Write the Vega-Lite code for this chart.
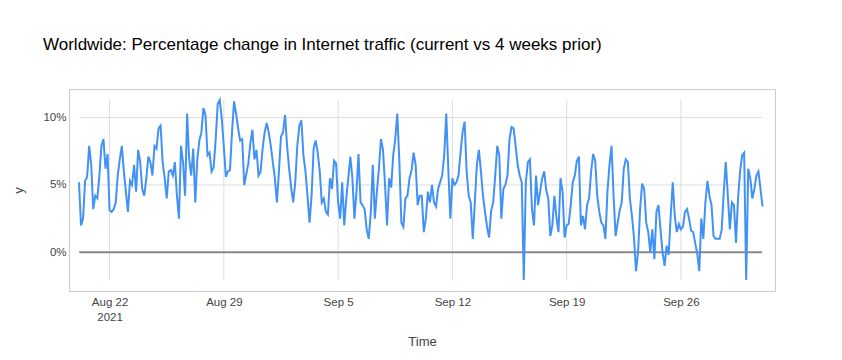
{
  "$schema": "https://vega.github.io/schema/vega-lite/v6.json",
  "width": 706,
  "height": 202,
  "autosize": {"type": "none"},
  "padding": {"left": 69, "top": 89, "right": 67, "bottom": 69},
  "background": "#ffffff",
  "config": {
    "view": {"stroke": "#cccccc", "strokeWidth": 1},
    "font": "Liberation Sans"
  },
  "title": {
    "text": "Worldwide: Percentage change in Internet traffic (current vs 4 weeks prior)",
    "anchor": "start",
    "frame": "group",
    "fontSize": 17,
    "fontWeight": "normal",
    "font": "Liberation Sans",
    "color": "#000000",
    "baseline": "alphabetic",
    "offset": 0,
    "dx": -26,
    "dy": -22
  },
  "datasets": {
    "hgrid": [{"g": 5}, {"g": 10}],
    "vgrid": [
      {"t": "2021-08-22T00:00"}, {"t": "2021-08-29T00:00"}, {"t": "2021-09-05T00:00"},
      {"t": "2021-09-12T00:00"}, {"t": "2021-09-19T00:00"}, {"t": "2021-09-26T00:00"}
    ],
    "traffic": [
      {"t":"2021-08-20T03:00","v":5.2},{"t":"2021-08-20T06:00","v":2.0},{"t":"2021-08-20T09:00","v":2.5},{"t":"2021-08-20T12:00","v":5.3},{"t":"2021-08-20T15:00","v":5.6},{"t":"2021-08-20T18:00","v":7.9},{"t":"2021-08-20T21:00","v":6.5},
      {"t":"2021-08-21T00:00","v":3.2},{"t":"2021-08-21T03:00","v":4.2},{"t":"2021-08-21T06:00","v":4.0},{"t":"2021-08-21T09:00","v":5.7},{"t":"2021-08-21T12:00","v":7.9},{"t":"2021-08-21T15:00","v":8.4},{"t":"2021-08-21T18:00","v":6.2},{"t":"2021-08-21T21:00","v":7.3},
      {"t":"2021-08-22T00:00","v":3.1},{"t":"2021-08-22T03:00","v":3.0},{"t":"2021-08-22T06:00","v":3.2},{"t":"2021-08-22T09:00","v":3.7},{"t":"2021-08-22T12:00","v":5.7},{"t":"2021-08-22T15:00","v":6.9},{"t":"2021-08-22T18:00","v":7.9},{"t":"2021-08-22T21:00","v":6.0},
      {"t":"2021-08-23T00:00","v":4.5},{"t":"2021-08-23T03:00","v":3.0},{"t":"2021-08-23T06:00","v":5.3},{"t":"2021-08-23T09:00","v":5.0},{"t":"2021-08-23T12:00","v":6.5},{"t":"2021-08-23T15:00","v":4.5},{"t":"2021-08-23T18:00","v":7.6},{"t":"2021-08-23T21:00","v":6.7},
      {"t":"2021-08-24T00:00","v":4.7},{"t":"2021-08-24T03:00","v":4.2},{"t":"2021-08-24T06:00","v":5.5},{"t":"2021-08-24T09:00","v":7.1},{"t":"2021-08-24T12:00","v":6.7},{"t":"2021-08-24T15:00","v":5.7},{"t":"2021-08-24T18:00","v":7.9},{"t":"2021-08-24T21:00","v":7.7},
      {"t":"2021-08-25T00:00","v":9.2},{"t":"2021-08-25T03:00","v":9.4},{"t":"2021-08-25T06:00","v":6.7},{"t":"2021-08-25T09:00","v":5.5},{"t":"2021-08-25T12:00","v":4.0},{"t":"2021-08-25T15:00","v":6.0},{"t":"2021-08-25T18:00","v":6.1},{"t":"2021-08-25T21:00","v":5.7},
      {"t":"2021-08-26T00:00","v":6.7},{"t":"2021-08-26T03:00","v":4.2},{"t":"2021-08-26T06:00","v":2.5},{"t":"2021-08-26T09:00","v":7.9},{"t":"2021-08-26T12:00","v":6.7},{"t":"2021-08-26T15:00","v":4.2},{"t":"2021-08-26T18:00","v":10.3},{"t":"2021-08-26T21:00","v":6.9},
      {"t":"2021-08-27T00:00","v":5.7},{"t":"2021-08-27T03:00","v":7.7},{"t":"2021-08-27T06:00","v":3.7},{"t":"2021-08-27T09:00","v":6.9},{"t":"2021-08-27T12:00","v":8.3},{"t":"2021-08-27T15:00","v":8.9},{"t":"2021-08-27T18:00","v":10.7},{"t":"2021-08-27T21:00","v":10.2},
      {"t":"2021-08-28T00:00","v":7.2},{"t":"2021-08-28T03:00","v":7.4},{"t":"2021-08-28T06:00","v":6.0},{"t":"2021-08-28T09:00","v":6.3},{"t":"2021-08-28T12:00","v":8.4},{"t":"2021-08-28T15:00","v":11.0},{"t":"2021-08-28T18:00","v":11.3},{"t":"2021-08-28T21:00","v":9.9},
      {"t":"2021-08-29T00:00","v":7.8},{"t":"2021-08-29T03:00","v":5.6},{"t":"2021-08-29T06:00","v":6.0},{"t":"2021-08-29T09:00","v":6.1},{"t":"2021-08-29T12:00","v":8.9},{"t":"2021-08-29T15:00","v":11.2},{"t":"2021-08-29T18:00","v":10.3},{"t":"2021-08-29T21:00","v":9.2},
      {"t":"2021-08-30T00:00","v":8.3},{"t":"2021-08-30T03:00","v":8.4},{"t":"2021-08-30T06:00","v":5.0},{"t":"2021-08-30T09:00","v":5.8},{"t":"2021-08-30T12:00","v":6.6},{"t":"2021-08-30T15:00","v":8.1},{"t":"2021-08-30T18:00","v":9.1},{"t":"2021-08-30T21:00","v":6.9},
      {"t":"2021-08-31T00:00","v":7.6},{"t":"2021-08-31T03:00","v":5.7},{"t":"2021-08-31T06:00","v":6.0},{"t":"2021-08-31T09:00","v":7.7},{"t":"2021-08-31T12:00","v":8.9},{"t":"2021-08-31T15:00","v":9.6},{"t":"2021-08-31T18:00","v":8.9},{"t":"2021-08-31T21:00","v":7.9},
      {"t":"2021-09-01T00:00","v":6.7},{"t":"2021-09-01T03:00","v":5.5},{"t":"2021-09-01T06:00","v":3.7},{"t":"2021-09-01T09:00","v":6.0},{"t":"2021-09-01T12:00","v":8.6},{"t":"2021-09-01T15:00","v":8.9},{"t":"2021-09-01T18:00","v":10.2},{"t":"2021-09-01T21:00","v":7.9},
      {"t":"2021-09-02T00:00","v":6.2},{"t":"2021-09-02T03:00","v":4.8},{"t":"2021-09-02T06:00","v":3.7},{"t":"2021-09-02T09:00","v":5.2},{"t":"2021-09-02T12:00","v":7.9},{"t":"2021-09-02T15:00","v":9.4},{"t":"2021-09-02T18:00","v":9.8},{"t":"2021-09-02T21:00","v":7.2},
      {"t":"2021-09-03T00:00","v":6.0},{"t":"2021-09-03T03:00","v":4.2},{"t":"2021-09-03T06:00","v":2.2},{"t":"2021-09-03T09:00","v":4.2},{"t":"2021-09-03T12:00","v":7.7},{"t":"2021-09-03T15:00","v":8.3},{"t":"2021-09-03T18:00","v":7.4},{"t":"2021-09-03T21:00","v":6.0},
      {"t":"2021-09-04T00:00","v":3.7},{"t":"2021-09-04T03:00","v":4.0},{"t":"2021-09-04T06:00","v":3.0},{"t":"2021-09-04T09:00","v":2.8},{"t":"2021-09-04T12:00","v":5.5},{"t":"2021-09-04T15:00","v":4.7},{"t":"2021-09-04T18:00","v":6.8},{"t":"2021-09-04T21:00","v":6.6},
      {"t":"2021-09-05T00:00","v":3.7},{"t":"2021-09-05T03:00","v":2.5},{"t":"2021-09-05T06:00","v":5.2},{"t":"2021-09-05T09:00","v":2.0},{"t":"2021-09-05T12:00","v":4.0},{"t":"2021-09-05T15:00","v":5.5},{"t":"2021-09-05T18:00","v":7.1},{"t":"2021-09-05T21:00","v":5.5},
      {"t":"2021-09-06T00:00","v":2.5},{"t":"2021-09-06T03:00","v":4.5},{"t":"2021-09-06T06:00","v":7.3},{"t":"2021-09-06T09:00","v":3.7},{"t":"2021-09-06T12:00","v":3.5},{"t":"2021-09-06T15:00","v":3.2},{"t":"2021-09-06T18:00","v":1.7},{"t":"2021-09-06T21:00","v":1.0},
      {"t":"2021-09-07T00:00","v":2.9},{"t":"2021-09-07T03:00","v":6.5},{"t":"2021-09-07T06:00","v":2.5},{"t":"2021-09-07T09:00","v":4.5},{"t":"2021-09-07T12:00","v":6.2},{"t":"2021-09-07T15:00","v":8.4},{"t":"2021-09-07T18:00","v":7.6},{"t":"2021-09-07T21:00","v":5.0},
      {"t":"2021-09-08T00:00","v":2.0},{"t":"2021-09-08T03:00","v":5.5},{"t":"2021-09-08T06:00","v":4.8},{"t":"2021-09-08T09:00","v":7.2},{"t":"2021-09-08T12:00","v":8.4},{"t":"2021-09-08T15:00","v":10.3},{"t":"2021-09-08T18:00","v":6.8},{"t":"2021-09-08T21:00","v":2.2},
      {"t":"2021-09-09T00:00","v":1.9},{"t":"2021-09-09T03:00","v":4.0},{"t":"2021-09-09T06:00","v":4.2},{"t":"2021-09-09T09:00","v":5.5},{"t":"2021-09-09T12:00","v":6.1},{"t":"2021-09-09T15:00","v":7.4},{"t":"2021-09-09T18:00","v":6.5},{"t":"2021-09-09T21:00","v":3.5},
      {"t":"2021-09-10T00:00","v":4.2},{"t":"2021-09-10T03:00","v":4.2},{"t":"2021-09-10T06:00","v":1.5},{"t":"2021-09-10T09:00","v":2.5},{"t":"2021-09-10T12:00","v":4.5},{"t":"2021-09-10T15:00","v":3.7},{"t":"2021-09-10T18:00","v":5.0},{"t":"2021-09-10T21:00","v":3.7},
      {"t":"2021-09-11T00:00","v":3.4},{"t":"2021-09-11T03:00","v":4.7},{"t":"2021-09-11T06:00","v":5.2},{"t":"2021-09-11T09:00","v":5.7},{"t":"2021-09-11T12:00","v":7.2},{"t":"2021-09-11T15:00","v":10.3},{"t":"2021-09-11T18:00","v":6.2},{"t":"2021-09-11T21:00","v":2.5},
      {"t":"2021-09-12T00:00","v":5.5},{"t":"2021-09-12T03:00","v":5.0},{"t":"2021-09-12T06:00","v":5.2},{"t":"2021-09-12T09:00","v":5.7},{"t":"2021-09-12T12:00","v":7.4},{"t":"2021-09-12T15:00","v":8.9},{"t":"2021-09-12T18:00","v":9.7},{"t":"2021-09-12T21:00","v":6.0},
      {"t":"2021-09-13T00:00","v":4.2},{"t":"2021-09-13T03:00","v":3.7},{"t":"2021-09-13T06:00","v":1.0},{"t":"2021-09-13T09:00","v":3.7},{"t":"2021-09-13T12:00","v":6.5},{"t":"2021-09-13T15:00","v":7.6},{"t":"2021-09-13T18:00","v":6.0},{"t":"2021-09-13T21:00","v":4.2},
      {"t":"2021-09-14T00:00","v":3.0},{"t":"2021-09-14T03:00","v":1.9},{"t":"2021-09-14T06:00","v":1.1},{"t":"2021-09-14T09:00","v":3.1},{"t":"2021-09-14T12:00","v":3.7},{"t":"2021-09-14T15:00","v":5.7},{"t":"2021-09-14T18:00","v":7.9},{"t":"2021-09-14T21:00","v":7.2},
      {"t":"2021-09-15T00:00","v":2.5},{"t":"2021-09-15T03:00","v":4.7},{"t":"2021-09-15T06:00","v":5.0},{"t":"2021-09-15T09:00","v":5.7},{"t":"2021-09-15T12:00","v":8.4},{"t":"2021-09-15T15:00","v":9.3},{"t":"2021-09-15T18:00","v":9.2},{"t":"2021-09-15T21:00","v":7.9},
      {"t":"2021-09-16T00:00","v":6.5},{"t":"2021-09-16T03:00","v":5.7},{"t":"2021-09-16T06:00","v":5.2},{"t":"2021-09-16T09:00","v":-2.05},{"t":"2021-09-16T12:00","v":5.2},{"t":"2021-09-16T15:00","v":6.7},{"t":"2021-09-16T18:00","v":6.9},{"t":"2021-09-16T21:00","v":3.2},
      {"t":"2021-09-17T00:00","v":2.0},{"t":"2021-09-17T03:00","v":5.7},{"t":"2021-09-17T06:00","v":3.5},{"t":"2021-09-17T09:00","v":4.5},{"t":"2021-09-17T12:00","v":5.5},{"t":"2021-09-17T15:00","v":6.0},{"t":"2021-09-17T18:00","v":4.6},{"t":"2021-09-17T21:00","v":4.0},
      {"t":"2021-09-18T00:00","v":1.2},{"t":"2021-09-18T03:00","v":2.0},{"t":"2021-09-18T06:00","v":4.2},{"t":"2021-09-18T09:00","v":2.6},{"t":"2021-09-18T12:00","v":1.5},{"t":"2021-09-18T15:00","v":5.5},{"t":"2021-09-18T18:00","v":4.5},{"t":"2021-09-18T21:00","v":1.1},
      {"t":"2021-09-19T00:00","v":2.0},{"t":"2021-09-19T03:00","v":2.1},{"t":"2021-09-19T06:00","v":3.5},{"t":"2021-09-19T09:00","v":5.2},{"t":"2021-09-19T12:00","v":5.7},{"t":"2021-09-19T15:00","v":6.8},{"t":"2021-09-19T18:00","v":7.1},{"t":"2021-09-19T21:00","v":2.0},
      {"t":"2021-09-20T00:00","v":2.7},{"t":"2021-09-20T03:00","v":1.7},{"t":"2021-09-20T06:00","v":3.5},{"t":"2021-09-20T09:00","v":4.0},{"t":"2021-09-20T12:00","v":6.0},{"t":"2021-09-20T15:00","v":7.3},{"t":"2021-09-20T18:00","v":6.8},{"t":"2021-09-20T21:00","v":4.2},
      {"t":"2021-09-21T00:00","v":3.0},{"t":"2021-09-21T03:00","v":2.2},{"t":"2021-09-21T06:00","v":2.0},{"t":"2021-09-21T09:00","v":1.0},{"t":"2021-09-21T12:00","v":4.5},{"t":"2021-09-21T15:00","v":6.5},{"t":"2021-09-21T18:00","v":7.9},{"t":"2021-09-21T21:00","v":4.2},
      {"t":"2021-09-22T00:00","v":1.2},{"t":"2021-09-22T03:00","v":2.2},{"t":"2021-09-22T06:00","v":3.1},{"t":"2021-09-22T09:00","v":3.7},{"t":"2021-09-22T12:00","v":6.2},{"t":"2021-09-22T15:00","v":6.9},{"t":"2021-09-22T18:00","v":6.7},{"t":"2021-09-22T21:00","v":4.0},
      {"t":"2021-09-23T00:00","v":2.7},{"t":"2021-09-23T03:00","v":1.1},{"t":"2021-09-23T06:00","v":-1.4},{"t":"2021-09-23T09:00","v":0.0},{"t":"2021-09-23T12:00","v":3.2},{"t":"2021-09-23T15:00","v":5.1},{"t":"2021-09-23T18:00","v":4.7},{"t":"2021-09-23T21:00","v":2.2},
      {"t":"2021-09-24T00:00","v":1.5},{"t":"2021-09-24T03:00","v":0.0},{"t":"2021-09-24T06:00","v":1.7},{"t":"2021-09-24T09:00","v":-0.5},{"t":"2021-09-24T12:00","v":3.0},{"t":"2021-09-24T15:00","v":3.5},{"t":"2021-09-24T18:00","v":1.7},{"t":"2021-09-24T21:00","v":0.0},
      {"t":"2021-09-25T00:00","v":-1.0},{"t":"2021-09-25T03:00","v":0.5},{"t":"2021-09-25T06:00","v":-0.2},{"t":"2021-09-25T09:00","v":2.7},{"t":"2021-09-25T12:00","v":5.2},{"t":"2021-09-25T15:00","v":2.7},{"t":"2021-09-25T18:00","v":1.5},{"t":"2021-09-25T21:00","v":2.1},
      {"t":"2021-09-26T00:00","v":1.7},{"t":"2021-09-26T03:00","v":1.9},{"t":"2021-09-26T06:00","v":3.0},{"t":"2021-09-26T09:00","v":3.2},{"t":"2021-09-26T12:00","v":2.5},{"t":"2021-09-26T15:00","v":1.6},{"t":"2021-09-26T18:00","v":1.5},{"t":"2021-09-26T21:00","v":0.7},
      {"t":"2021-09-27T00:00","v":-0.1},{"t":"2021-09-27T03:00","v":-1.4},{"t":"2021-09-27T06:00","v":2.5},{"t":"2021-09-27T09:00","v":1.0},{"t":"2021-09-27T12:00","v":3.7},{"t":"2021-09-27T15:00","v":5.3},{"t":"2021-09-27T18:00","v":4.2},{"t":"2021-09-27T21:00","v":3.5},
      {"t":"2021-09-28T00:00","v":1.2},{"t":"2021-09-28T03:00","v":1.0},{"t":"2021-09-28T06:00","v":1.0},{"t":"2021-09-28T09:00","v":1.0},{"t":"2021-09-28T12:00","v":1.7},{"t":"2021-09-28T15:00","v":4.5},{"t":"2021-09-28T18:00","v":6.7},{"t":"2021-09-28T21:00","v":4.2},
      {"t":"2021-09-29T00:00","v":1.7},{"t":"2021-09-29T03:00","v":3.7},{"t":"2021-09-29T06:00","v":3.5},{"t":"2021-09-29T09:00","v":0.7},{"t":"2021-09-29T12:00","v":4.0},{"t":"2021-09-29T15:00","v":6.0},{"t":"2021-09-29T18:00","v":7.2},{"t":"2021-09-29T21:00","v":7.4},
      {"t":"2021-09-30T00:00","v":-2.05},{"t":"2021-09-30T03:00","v":6.2},{"t":"2021-09-30T06:00","v":5.5},{"t":"2021-09-30T09:00","v":4.0},{"t":"2021-09-30T12:00","v":4.7},{"t":"2021-09-30T15:00","v":5.7},{"t":"2021-09-30T18:00","v":6.0},{"t":"2021-09-30T21:00","v":4.7},
      {"t":"2021-10-01T00:00","v":3.4}
    ]
  },
  "layer": [
    {
      "data": {"name": "hgrid"},
      "mark": {"type": "rule", "color": "#dddddd", "strokeWidth": 1},
      "encoding": {
        "y": {"field": "g", "type": "quantitative"},
        "x": {"datum": {"year": 2021, "month": 8, "date": 20, "hours": 3, "minutes": 24}, "type": "temporal"},
        "x2": {"datum": {"year": 2021, "month": 9, "date": 30, "hours": 23, "minutes": 13}}
      }
    },
    {
      "data": {"name": "vgrid"},
      "mark": {"type": "rule", "color": "#dddddd", "strokeWidth": 1},
      "encoding": {
        "x": {"field": "t", "type": "temporal"},
        "y": {"datum": 11.31, "type": "quantitative"},
        "y2": {"datum": -2.06}
      }
    },
    {
      "data": {"values": [{"b": 0}]},
      "mark": {"type": "rule", "color": "#888888", "strokeWidth": 2},
      "encoding": {
        "y": {"field": "b", "type": "quantitative"},
        "x": {"datum": {"year": 2021, "month": 8, "date": 20, "hours": 3, "minutes": 24}, "type": "temporal"},
        "x2": {"datum": {"year": 2021, "month": 9, "date": 30, "hours": 23, "minutes": 13}}
      }
    },
    {
      "data": {"name": "traffic"},
      "mark": {"type": "line", "color": "#4292f6", "strokeWidth": 2, "clip": true},
      "encoding": {
        "x": {
          "field": "t",
          "type": "temporal",
          "scale": {
            "domain": [
              {"year": 2021, "month": 8, "date": 19, "hours": 12, "minutes": 20},
              {"year": 2021, "month": 10, "date": 1, "hours": 18, "minutes": 21}
            ],
            "nice": false
          },
          "axis": {
            "title": "Time",
            "values": [
              {"year": 2021, "month": 8, "date": 22},
              {"year": 2021, "month": 8, "date": 29},
              {"year": 2021, "month": 9, "date": 5},
              {"year": 2021, "month": 9, "date": 12},
              {"year": 2021, "month": 9, "date": 19},
              {"year": 2021, "month": 9, "date": 26}
            ],
            "labelExpr": "month(datum.value) == 7 && date(datum.value) == 22 ? [timeFormat(datum.value, '%b %-d'), '2021'] : timeFormat(datum.value, '%b %-d')",
            "grid": false,
            "domain": false,
            "ticks": false,
            "labelPadding": 5,
            "labelFont": "Liberation Sans",
            "labelFontSize": 11.5,
            "labelColor": "#444444",
            "labelLineHeight": 15,
            "labelOverlap": false,
            "titleFont": "Liberation Sans",
            "titleFontSize": 13,
            "titleFontWeight": "normal",
            "titleColor": "#444444",
            "titleX": 353,
            "titleY": 50,
            "titleBaseline": "middle"
          }
        },
        "y": {
          "field": "v",
          "type": "quantitative",
          "scale": {"domain": [-2.87, 12.12], "nice": false, "zero": false},
          "axis": {
            "title": "y",
            "values": [0, 5, 10],
            "labelExpr": "datum.value + '%'",
            "grid": false,
            "domain": false,
            "ticks": false,
            "labelPadding": 3,
            "labelFont": "Liberation Sans",
            "labelFontSize": 11.5,
            "labelColor": "#444444",
            "titleFont": "Liberation Sans",
            "titleFontSize": 13,
            "titleFontWeight": "normal",
            "titleColor": "#444444",
            "titleX": -51,
            "titleY": 101,
            "titleBaseline": "middle"
          }
        }
      }
    }
  ]
}
